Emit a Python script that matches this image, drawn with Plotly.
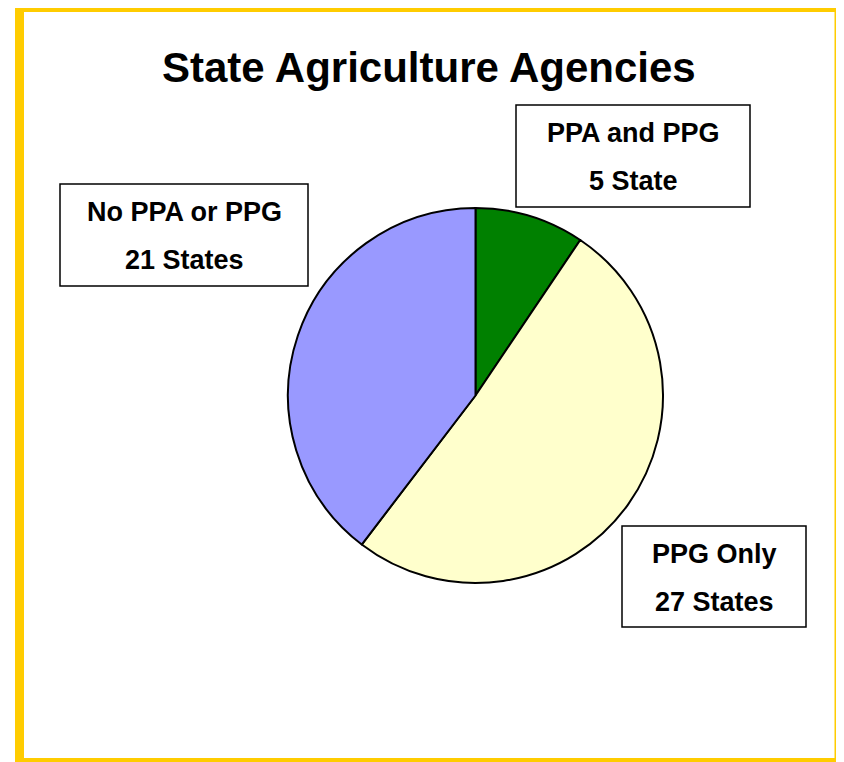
import plotly.graph_objects as go

# page body adds an 8px offset; the figure is sized to fill the rest of the window
OFF = 8
W, H = 844 - OFF, 762 - OFF

categories = ["PPA and PPG", "PPG Only", "No PPA or PPG"]
values = [5, 27, 21]
count_labels = ["5 State", "27 States", "21 States"]
colors = ["#008000", "#FFFFCC", "#9999FF"]

# label box geometry in window pixels (left, top, right, bottom)
boxes = [(516, 105, 750, 207), (622, 526, 806, 627), (60, 184, 308, 286)]


def px_x(x):
    return (x - OFF) / W


def px_y(y):
    return 1 - (y - OFF) / H


fig = go.Figure()
fig.add_trace(go.Pie(
    labels=categories,
    values=values,
    marker=dict(colors=colors, line=dict(color="black", width=2)),
    sort=False,
    direction="clockwise",
    rotation=0,
    textinfo="none",
    hoverinfo="label+value",
    showlegend=False,
    domain=dict(x=[px_x(288), px_x(663)], y=[px_y(583), px_y(208)]),
))

shapes = [
    dict(type="rect", xref="paper", yref="paper",
         x0=px_x(19.5), x1=px_x(839), y0=px_y(762.5), y1=px_y(7.5),
         line=dict(color="#FFCC00", width=9), fillcolor="rgba(0,0,0,0)"),
]
annotations = [
    dict(text="<b>State Agriculture Agencies</b>", x=px_x(429), y=px_y(67),
         xref="paper", yref="paper", showarrow=False,
         font=dict(size=42, color="black", family="Liberation Sans, Arial"),
         xanchor="center", yanchor="middle"),
]
for (l, t, r, b), name, cnt in zip(boxes, categories, count_labels):
    shapes.append(dict(type="rect", xref="paper", yref="paper",
                       x0=px_x(l), x1=px_x(r), y0=px_y(b), y1=px_y(t),
                       line=dict(color="black", width=1.5), fillcolor="white"))
    cx = (l + r) / 2
    cy = (t + b) / 2
    for txt, dy in ((name, -23), (cnt, 25)):
        annotations.append(dict(text=f"<b>{txt}</b>", x=px_x(cx), y=px_y(cy + dy),
                                xref="paper", yref="paper", showarrow=False,
                                font=dict(size=27, color="black", family="Liberation Sans, Arial"),
                                xanchor="center", yanchor="middle"))

fig.update_layout(
    width=W, height=H,
    margin=dict(l=0, r=0, t=0, b=0),
    paper_bgcolor="white",
    plot_bgcolor="white",
    shapes=shapes,
    annotations=annotations,
)

fig.write_html("out.html")
